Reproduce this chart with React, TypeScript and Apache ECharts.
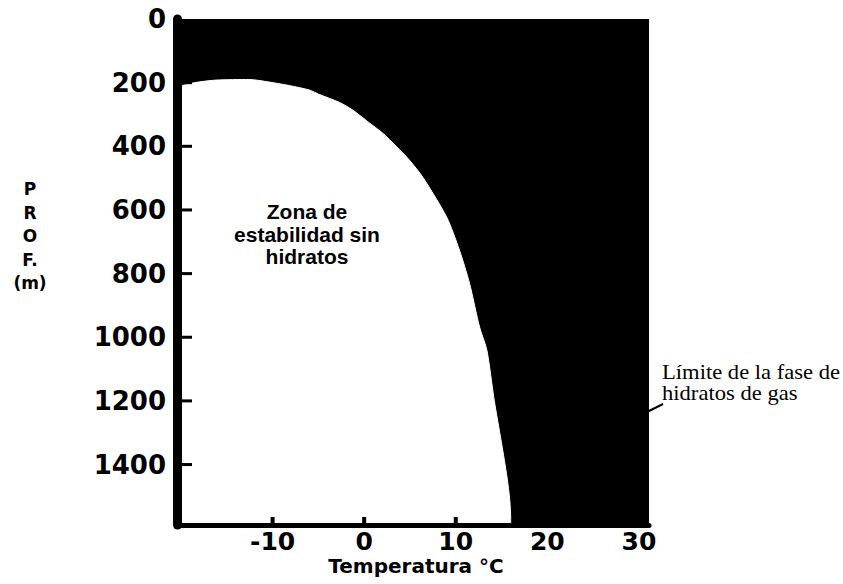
import React, { useEffect, useRef } from "react";
import * as echarts from "echarts";

// Boundary of the hydrate-free stability zone: temperature (°C) and depth (m)
const boundaryTemp = [
  -20.0, -18.5, -16.2, -12.6, -10.4, -8.2, -6.0, -4.9, -2.7, -1.3, 0.5, 2.0, 3.5, 4.9,
  6.4, 9.0, 10.4, 11.5, 12.6, 13.4, 14.2, 15.0, 15.6, 15.9, 16.0, 16.0,
];
const boundaryDepth = [
  210, 200, 192, 190, 198, 209, 223, 237, 262, 285, 325, 358, 400, 442,
  497, 622, 726, 830, 968, 1041, 1198, 1333, 1440, 1512, 1570, 1590,
];
// Hydrate stability field (black): whole temperature range from the surface down
const hydrateTemp = [-20, 31.1];
const hydrateDepth = [0, 0];
const xLabelValues = [-10, 0, 10, 20, 30];
const yLabelValues = [0, 200, 400, 600, 800, 1000, 1200, 1400];
const xTickValues = [-10, 0, 10];
const yTickValues = [200, 400, 600, 800, 1000, 1200, 1400];
const yAxisTitle = "P\nR\nO\nF.\n(m)";
const xAxisTitle = "Temperatura °C";
const zoneLabel = "Zona de\nestabilidad sin\nhidratos";
const limitLabel = "Límite de la fase de\nhidratos de gas";

const X_MIN = -20;
const Y_MAX = 1590;

export default function App() {
  const ref = useRef<HTMLDivElement>(null);
  useEffect(() => {
    if (!ref.current) return;
    const chart = echarts.init(ref.current, undefined, { renderer: "svg" });
    const data = boundaryTemp.map((t, i) => [t, boundaryDepth[i]]);
    const hydrate = hydrateTemp.map((t, i) => [t, hydrateDepth[i]]);
    const tickData = [
      ...yTickValues.map((v) => [X_MIN, v, 0]),
      ...xTickValues.map((v) => [v, Y_MAX, 1]),
    ];
    chart.setOption({
      animation: false,
      backgroundColor: "#fff",
      grid: {
        left: 181,
        top: 19,
        width: 468,
        height: 506,
        show: false,
        z: 10,
      },
      xAxis: {
        type: "value",
        min: X_MIN,
        max: 31.1,
        interval: 10,
        z: 10,
        splitLine: { show: false },
        axisLine: { show: true, onZero: false, lineStyle: { color: "#000", width: 5 } },
        axisTick: { show: false },
        axisLabel: {
          customValues: xLabelValues,
          margin: 4,
          color: "#000",
          fontFamily: "DejaVu Sans",
          fontWeight: "bold",
          fontSize: 25,
          formatter: (v: number) => String(v),
        },
      },
      yAxis: {
        type: "value",
        inverse: true,
        min: 0,
        max: Y_MAX,
        interval: 200,
        offset: 4,
        z: 10,
        splitLine: { show: false },
        axisLine: { show: true, onZero: false, lineStyle: { color: "#000", width: 9 } },
        axisTick: { show: false },
        axisLabel: {
          customValues: yLabelValues,
          margin: 11,
          color: "#000",
          fontFamily: "DejaVu Sans",
          fontWeight: "bold",
          fontSize: 26,
          formatter: (v: number) => String(v),
        },
      },
      series: [
        {
          type: "line",
          data: hydrate,
          symbol: "none",
          lineStyle: { color: "#000", width: 0 },
          areaStyle: { color: "#000", opacity: 1, origin: "end" },
          z: 1,
        },
        {
          type: "line",
          data,
          symbol: "none",
          smooth: 0.25,
          lineStyle: { color: "#fff", width: 1 },
          areaStyle: { color: "#fff", opacity: 1, origin: "end" },
          z: 2,
        },
        {
          type: "custom",
          z: 5,
          silent: true,
          data: tickData,
          encode: { x: 0, y: 1 },
          renderItem: (params: any, api: any) => {
            const kind = api.value(2);
            const p = api.coord([api.value(0), api.value(1)]);
            if (kind === 0) {
              return {
                type: "line",
                shape: { x1: p[0] - 2, y1: p[1], x2: p[0] + 11, y2: p[1] },
                style: { stroke: "#000", lineWidth: 3 },
              };
            }
            return {
              type: "line",
              shape: { x1: p[0], y1: p[1], x2: p[0], y2: p[1] - 8 },
              style: { stroke: "#000", lineWidth: 4 },
            };
          },
        },
      ],
      graphic: [
        {
          type: "text",
          x: 307,
          y: 234,
          z: 20,
          style: {
            text: zoneLabel,
            fill: "#000",
            font: "bold 21px 'Liberation Sans'",
            align: "center",
            verticalAlign: "middle",
            lineHeight: 22.5,
          },
        },
        {
          type: "text",
          x: 30,
          y: 236,
          z: 20,
          style: {
            text: yAxisTitle,
            fill: "#000",
            font: "bold 17px 'DejaVu Sans'",
            align: "center",
            verticalAlign: "middle",
            lineHeight: 23.5,
          },
        },
        {
          type: "text",
          x: 416,
          y: 566,
          z: 20,
          style: {
            text: xAxisTitle,
            fill: "#000",
            font: "bold 20px 'DejaVu Sans'",
            align: "center",
            verticalAlign: "middle",
          },
        },
        {
          type: "text",
          x: 662,
          y: 383,
          scaleX: 1.13,
          z: 20,
          style: {
            text: limitLabel,
            fill: "#000",
            font: "20px 'Liberation Serif'",
            align: "left",
            verticalAlign: "middle",
            lineHeight: 21,
          },
        },
        {
          type: "line",
          z: 20,
          shape: { x1: 645, y1: 413, x2: 663, y2: 404 },
          style: { stroke: "#000", lineWidth: 2 },
        },
      ],
    });
    return () => chart.dispose();
  }, []);
  return (
    <div
      ref={ref}
      style={{ position: "absolute", left: 0, top: 0, width: 843, height: 584 }}
    />
  );
}
